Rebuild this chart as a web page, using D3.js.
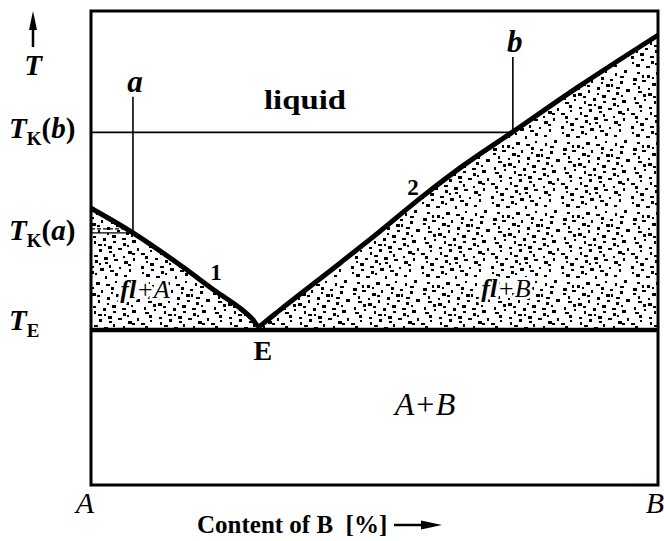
<!DOCTYPE html>
<html>
<head>
<meta charset="utf-8">
<script src="https://cdn.jsdelivr.net/npm/d3@7"></script>
<style>
  body { margin: 0; background: #fff; }
</style>
</head>
<body>
<div id="chart"></div>
<script>
// liquidus branch 1 (A side) : composition % B, temperature (relative units)
var compA = [0, 7.4, 16.2, 22.2, 26.3, 28.4, 29.6];
var tempA = [58.4, 53.2, 46.0, 40.7, 37.3, 35.1, 33.5];
// liquidus branch 2 (B side)
var compB = [30.9, 33.3, 43.9, 49.7, 58.6, 65.1, 74.4, 86.2, 100];
var tempB = [34.6, 36.9, 46.8, 52.3, 61.0, 66.9, 74.5, 84.2, 94.9];

// characteristic temperatures
var tE = 32.7, tKa = 53.2, tKb = 74.4;
// alloys and eutectic composition
var alloyA = 7.4, alloyB = 74.4, eutectic = 29.6;
var alloyTopA = 81.9, alloyTopB = 90.3;

var xLabels = ["A", "B"];

var width = 664, height = 541;
var svg = d3.select("#chart").append("svg")
  .attr("width", width)
  .attr("height", height);

var x = d3.scaleLinear().domain([0, 100]).range([91, 658]);
var y = d3.scaleLinear().domain([0, 100]).range([485, 11]);

var liquidus = compA.map((c, i) => [c, tempA[i]])
  .concat(compB.map((c, i) => [c, tempB[i]]));

// speckle texture for the two-phase fields (quasi-random R2 sequence, deterministic)
var defs = svg.append("defs");
var tile = 70;
var pat = defs.append("pattern")
  .attr("id", "speckle")
  .attr("patternUnits", "userSpaceOnUse")
  .attr("width", tile).attr("height", tile);
var g1 = 1.32471795724474602596, a1 = 1 / g1, a2 = 1 / (g1 * g1);
var dots = d3.range(92).map(i => ({
  px: Math.round(((0.5 + a1 * i) % 1) * (tile - 3)),
  py: Math.round(((0.5 + a2 * i) % 1) * (tile - 3)),
  w: 2 + (i * 7 % 3),
  h: 2 + (i * 5 % 2)
}));
pat.selectAll("rect").data(dots).enter().append("rect")
  .attr("x", d => d.px).attr("y", d => d.py)
  .attr("width", d => d.w).attr("height", d => d.h)
  .attr("shape-rendering", "crispEdges")
  .attr("fill", "#000");

// two-phase fields fl+A, fl+B
var area = d3.area()
  .x(d => x(d[0]))
  .y0(y(tE))
  .y1(d => y(d[1]))
  .curve(d3.curveMonotoneX);

svg.append("path")
  .datum(liquidus)
  .attr("d", area)
  .attr("fill", "url(#speckle)");

// thin construction lines
svg.append("line")
  .attr("x1", x(0)).attr("x2", x(alloyB))
  .attr("y1", y(tKb)).attr("y2", y(tKb))
  .attr("stroke", "#000").attr("stroke-width", 1.6);
svg.append("line")
  .attr("x1", x(alloyB)).attr("x2", x(alloyB))
  .attr("y1", y(alloyTopB)).attr("y2", y(tKb))
  .attr("stroke", "#000").attr("stroke-width", 1.6);
svg.append("line")
  .attr("x1", x(alloyA)).attr("x2", x(alloyA))
  .attr("y1", y(alloyTopA)).attr("y2", y(tKa))
  .attr("stroke", "#000").attr("stroke-width", 1.6);
svg.append("line")
  .attr("x1", x(0)).attr("x2", x(alloyA))
  .attr("y1", y(tKa)).attr("y2", y(tKa))
  .attr("stroke", "#000").attr("stroke-width", 1.2);
svg.append("line")
  .attr("x1", x(0)).attr("x2", x(alloyA) - 8)
  .attr("y1", y(tKa) - 4).attr("y2", y(tKa) - 4)
  .attr("stroke", "#000").attr("stroke-width", 1.2)
  .attr("stroke-dasharray", "4,2");

// eutectic line
svg.append("line")
  .attr("x1", x(0)).attr("x2", x(100))
  .attr("y1", y(tE)).attr("y2", y(tE))
  .attr("stroke", "#000").attr("stroke-width", 4.5);

// liquidus curves
svg.append("path")
  .datum(liquidus)
  .attr("d", d3.line().x(d => x(d[0])).y(d => y(d[1])).curve(d3.curveMonotoneX))
  .attr("fill", "none")
  .attr("stroke", "#000")
  .attr("stroke-width", 5)
  .attr("stroke-linejoin", "round");

// frame
svg.append("rect")
  .attr("x", x(0)).attr("y", y(100))
  .attr("width", x(100) - x(0)).attr("height", y(0) - y(100))
  .attr("fill", "none")
  .attr("stroke", "#000")
  .attr("stroke-width", 3);

// temperature axis arrow
svg.append("line")
  .attr("x1", 33).attr("x2", 33).attr("y1", 47).attr("y2", 24)
  .attr("stroke", "#000").attr("stroke-width", 2.5);
svg.append("path")
  .attr("d", "M33,11 L29,30 L37,30 Z")
  .attr("fill", "#000");
svg.append("text")
  .attr("x", 33).attr("y", 75)
  .attr("text-anchor", "middle")
  .style("font-size", "29px").style("font-style", "italic").style("font-weight", "bold")
  .text("T");

// temperature labels on the left
function tLabel(yPos, sub, arg) {
  var t = svg.append("text").attr("x", 9).attr("y", yPos)
    .style("font-size", "29px").style("font-weight", "bold");
  t.append("tspan").style("font-style", "italic").text("T");
  t.append("tspan").attr("dy", 7).style("font-size", "19px").text(sub);
  if (arg) {
    t.append("tspan").attr("dy", -7).text("(");
    t.append("tspan").style("font-style", "italic").text(arg);
    t.append("tspan").text(")");
  }
}
tLabel(y(tKb) + 6, "K", "b");
tLabel(y(tKa) + 7, "K", "a");
tLabel(y(tE), "E", null);

// alloy labels
svg.append("text")
  .attr("x", x(alloyA) + 2).attr("y", y(alloyTopA) - 5)
  .attr("text-anchor", "middle")
  .style("font-size", "31px").style("font-style", "italic").style("font-weight", "bold")
  .text("a");
svg.append("text")
  .attr("x", x(alloyB) + 2).attr("y", y(alloyTopB) - 5)
  .attr("text-anchor", "middle")
  .style("font-size", "31px").style("font-style", "italic").style("font-weight", "bold")
  .text("b");

// field labels
svg.append("text")
  .attr("x", 305).attr("y", 109)
  .attr("text-anchor", "middle")
  .attr("textLength", 82).attr("lengthAdjust", "spacingAndGlyphs")
  .style("font-size", "27px").style("font-weight", "bold")
  .text("liquid");
svg.append("text")
  .attr("x", 216).attr("y", 280)
  .attr("text-anchor", "middle")
  .style("font-size", "23px").style("font-weight", "bold")
  .text("1");
svg.append("text")
  .attr("x", 413).attr("y", 195)
  .attr("text-anchor", "middle")
  .style("font-size", "23px").style("font-weight", "bold")
  .text("2");
function phaseLabel(xPos, yPos, solid) {
  var t = svg.append("text").attr("x", xPos).attr("y", yPos)
    .attr("text-anchor", "middle")
    .attr("stroke", "#fff").attr("stroke-width", 6)
    .attr("stroke-linejoin", "round")
    .attr("paint-order", "stroke")
    .style("font-size", "26px").style("font-style", "italic");
  t.append("tspan").style("font-weight", "bold").text("fl");
  t.append("tspan").text("+" + solid);
}
phaseLabel(145, 298, "A");
phaseLabel(506, 297, "B");
svg.append("text")
  .attr("x", x(eutectic) + 4).attr("y", 360)
  .attr("text-anchor", "middle")
  .style("font-size", "28px").style("font-weight", "bold")
  .text("E");
svg.append("text")
  .attr("x", 425).attr("y", 415)
  .attr("text-anchor", "middle")
  .style("font-size", "32px").style("font-style", "italic")
  .text("A+B");

// composition axis
svg.selectAll(".xlab")
  .data(xLabels)
  .enter().append("text")
  .attr("class", "xlab")
  .attr("x", (d, i) => x(i * 100) + (i ? -3 : -6))
  .attr("y", 513)
  .attr("text-anchor", "middle")
  .style("font-size", "30px").style("font-style", "italic")
  .text(d => d);

svg.append("text")
  .attr("x", 197).attr("y", 533)
  .style("font-size", "25px").style("font-weight", "bold")
  .style("white-space", "pre")
  .text("Content of B  [%]");
svg.append("line")
  .attr("x1", 394).attr("x2", 424).attr("y1", 525).attr("y2", 525)
  .attr("stroke", "#000").attr("stroke-width", 2.5);
svg.append("path")
  .attr("d", "M442,525 L421,520.5 L421,529.5 Z")
  .attr("fill", "#000");

// serif face on every label (set inline, one family name)
svg.selectAll("text").style("font-family", "Liberation Serif");
</script>
</body>
</html>
